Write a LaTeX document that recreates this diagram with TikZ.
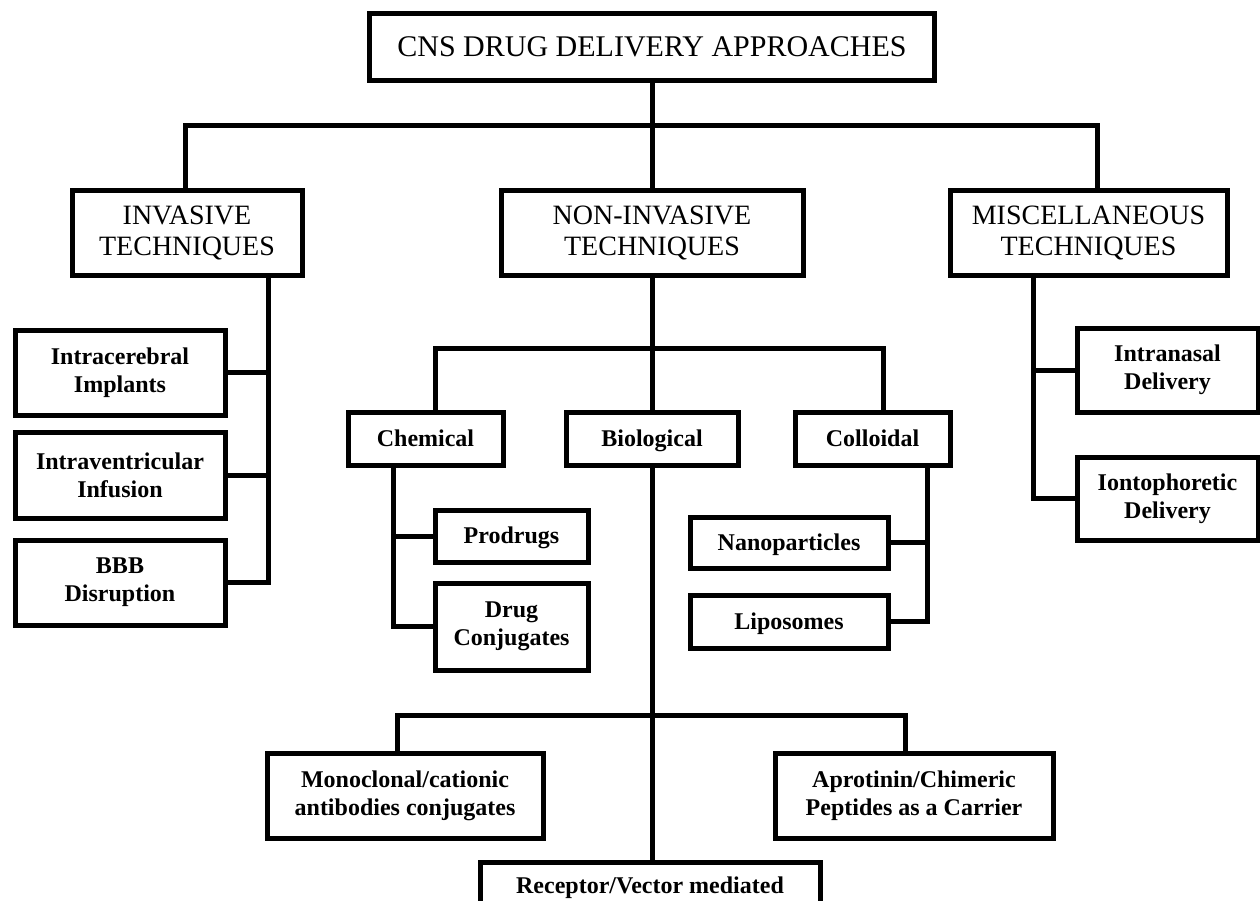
\documentclass[tikz,border=0pt]{standalone}
\usepackage{fontspec}
\setmainfont{Liberation Serif}
\begin{document}
\begin{tikzpicture}[x=1pt,y=-1pt,
  box/.style={draw, line width=5pt, inner sep=0pt, align=center},
  big/.style={box, font=\fontsize{28}{31}\selectfont},
  sml/.style={box, font=\fontsize{24}{28}\selectfont\bfseries},
  one/.style={text height=18.5pt, text depth=3pt},
  conn/.style={line width=5pt}]
\useasboundingbox (0,0) rectangle (1260,900);
\clip (0,0) rectangle (1260,900);
\fill[white] (0,0) rectangle (1260,900);
% top
\node[box, font=\fontsize{30}{32}\selectfont, minimum width=565, minimum height=67] (title) at (652,46.5) {CNS DRUG DELIVERY APPROACHES};
\node[big, minimum width=230, minimum height=85] (inv) at (187,232.5) {INVASIVE\\TECHNIQUES};
\node[big, minimum width=302, minimum height=85] (noninv) at (652,232.5) {NON-INVASIVE\\TECHNIQUES};
\node[big, minimum width=277, minimum height=85] (misc) at (1088.5,232.5) {MISCELLANEOUS\\TECHNIQUES};
% invasive
\node[sml, minimum width=210, minimum height=85] (ic) at (120,372.5) {Intracerebral\\Implants};
\node[sml, minimum width=210, minimum height=86] (iv) at (120,475) {Intraventricular\\Infusion};
\node[sml, minimum width=210, minimum height=85] (bbb) at (120,582.5) {BBB\\Disruption};
% misc
\node[sml, minimum width=181, minimum height=84] (inas) at (1167.5,370) {Intranasal\\Delivery};
\node[sml, minimum width=181, minimum height=83] (ionto) at (1167.5,498.5) {Iontophoretic\\Delivery};
% non-invasive
\node[sml, one, minimum width=155, minimum height=53] (chem) at (425.5,438.5) {Chemical};
\node[sml, one, minimum width=172, minimum height=53] (bio) at (652,438.5) {Biological};
\node[sml, one, minimum width=155, minimum height=53] (coll) at (872.5,438.5) {Colloidal};
\node[sml, one, minimum width=153, minimum height=52] (prod) at (511.5,536) {Prodrugs};
\node[sml, minimum width=153, minimum height=87] (dconj) at (511.5,626.5) {Drug\\Conjugates};
\node[sml, one, minimum width=198, minimum height=51] (nano) at (789,542.5) {Nanoparticles};
\node[sml, one, minimum width=198, minimum height=53] (lipo) at (789,621.5) {Liposomes};
\node[sml, minimum width=276, minimum height=85] (mono) at (405,795.5) {Monoclonal/cationic\\antibodies conjugates};
\node[sml, minimum width=278, minimum height=85] (apro) at (914,795.5) {Aprotinin/Chimeric\\Peptides as a Carrier};
\node[box, minimum width=340, minimum height=90, anchor=north] (rec) at (650,860) {};
\node[font=\fontsize{24}{28}\selectfont\bfseries, inner sep=0pt] (recl) at (650,888) {Receptor/Vector mediated};
% coordinates
\coordinate (b1) at (652,125);
\coordinate (b2) at (652,348);
\coordinate (b3) at (652,715);
\coordinate (it) at ([xshift=81]inv.south);
\coordinate (mt) at ([xshift=-55.5]misc.south);
\coordinate (ct) at ([xshift=-32.5]chem.south);
\coordinate (kt) at ([xshift=54.5]coll.south);
% connectors
\draw[conn] (title.south) -- (noninv.north);
\draw[conn] ([xshift=-2]inv.north) |- (b1) -| ([xshift=8.5]misc.north);
\draw[conn] (it) |- (bbb.east);
\draw[conn] (ic.east) -- (ic.east -| it);
\draw[conn] (iv.east) -- (iv.east -| it);
\draw[conn] (mt) |- (ionto.west);
\draw[conn] (inas.west) -- (inas.west -| mt);
\draw[conn] (noninv.south) -- (bio.north);
\draw[conn] ([xshift=9.5]chem.north) |- (b2) -| ([xshift=10.5]coll.north);
\draw[conn] (ct) |- (dconj.west);
\draw[conn] (prod.west) -- (prod.west -| ct);
\draw[conn] (kt) |- (lipo.east);
\draw[conn] (nano.east) -- (nano.east -| kt);
\draw[conn] (bio.south) -- (bio.south |- rec.north);
\draw[conn] ([xshift=-8]mono.north) |- (b3) -| ([xshift=-9]apro.north);
\end{tikzpicture}
\end{document}
